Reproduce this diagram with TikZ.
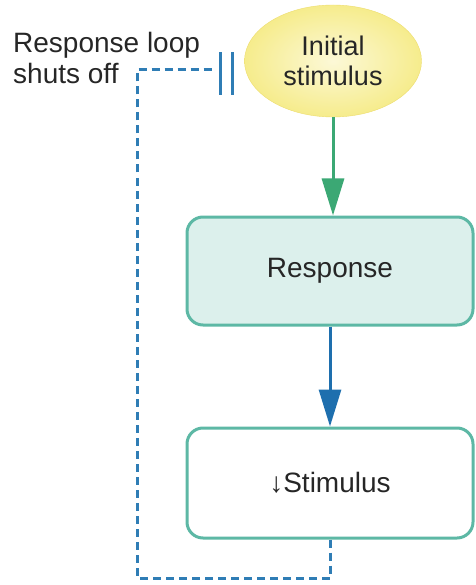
\documentclass[tikz,border=0pt]{standalone}
\usepackage{fontspec}
\setmainfont{Liberation Sans}
\usepackage{tikz}
\usetikzlibrary{arrows.meta,shapes.geometric}

\definecolor{stimyellow}{HTML}{F6EC8C}
\definecolor{stimedge}{HTML}{EDDD6E}
\definecolor{boxteal}{HTML}{5DB8A5}
\definecolor{boxfill}{HTML}{DCF0EC}
\definecolor{arrgreen}{HTML}{3BA874}
\definecolor{arrblue}{HTML}{1E6FAE}
\definecolor{loopblue}{HTML}{2F7DB5}

\tikzset{
	txt/.style = { font = \fontsize{28}{30}\selectfont, text = black!85 },
	stepbox/.style = { txt, draw = boxteal, line width = 3pt,
		rounded corners = 16pt, minimum width = 286pt, inner sep = 0pt },
	bigtip/.style = { -{Triangle[length=37pt,width=22pt]}, line width = 3pt },
	loop/.style = { loopblue, line width = 3pt, dash pattern = on 8pt off 5pt }
}

\begin{document}
\begin{tikzpicture}[ x = 1pt, y = -1pt ]
	\useasboundingbox (0,0) rectangle (475,585);
	\node (1) [ ellipse, txt, align = center, minimum width = 177pt,
		minimum height = 112pt, inner sep = 0pt, draw = stimedge,
		font = \fontsize{27}{30}\selectfont,
		inner color = stimyellow!35, outer color = stimyellow ] at (333,61)
		{ Initial \\ stimulus };
	\node (2) [ stepbox, fill = boxfill, minimum height = 108pt ] at (330,271)
		{ Response };
	\node (3) [ stepbox, fill = white, minimum height = 110pt ] at (330,483)
		{ \symbol{"2193}Stimulus };
	\node (4) [ txt, align = left, anchor = west, inner sep = 0pt,
		font = \fontsize{28}{31}\selectfont ] at (13,58)
		{ Response loop \\ shuts off };
	\coordinate (b) at (137,578);
	\coordinate (c) at (137,70);
	\coordinate (d) at (216,70);
	\draw [ bigtip, arrgreen ] (1.south) to (1.south |- 2.north);
	\draw [ bigtip, arrblue ] (2) to (3);
	\draw [ loop ] (3.south) -- (3.south |- b) -- (b) -- (c) -- (d);
	\draw [ loopblue, line width = 3pt ] ([xshift=4pt,yshift=-25pt]d) -- ([xshift=4pt,yshift=18pt]d);
	\draw [ loopblue, line width = 3pt ] ([xshift=16pt,yshift=-25pt]d) -- ([xshift=16pt,yshift=18pt]d);
\end{tikzpicture}
\end{document}
